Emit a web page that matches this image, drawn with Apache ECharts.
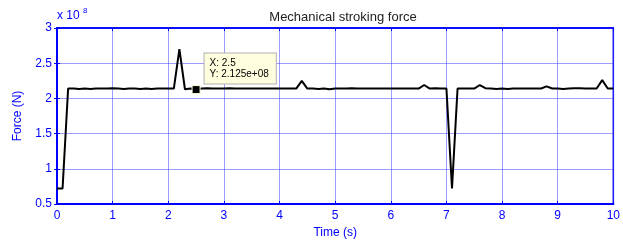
<!DOCTYPE html>
<html>
<head>
<meta charset="utf-8">
<script src="https://cdn.jsdelivr.net/npm/echarts@6/dist/echarts.min.js"></script>
<style>
  html, body { margin: 0; padding: 0; background: #fff; }
  #chart { width: 623px; height: 244px; }
</style>
</head>
<body>
<div id="chart"></div>
<script>
// time samples, 0.1 s apart
var times = [];
for (var i = 0; i <= 100; i++) times.push(+(i / 10).toFixed(1));

// force in units of 1e8 N
var force = [
  0.72, 0.72, 2.14, 2.14, 2.135, 2.14, 2.135, 2.14, 2.14, 2.14,
  2.145, 2.14, 2.135, 2.14, 2.14, 2.135, 2.14, 2.135, 2.14, 2.14,
  2.14, 2.14, 2.70, 2.13, 2.14, 2.125, 2.14, 2.145, 2.14, 2.14,
  2.14, 2.145, 2.14, 2.14, 2.14, 2.14, 2.14, 2.14, 2.14, 2.14,
  2.14, 2.14, 2.14, 2.14, 2.25, 2.14, 2.14, 2.135, 2.14, 2.13,
  2.14, 2.14, 2.14, 2.145, 2.14, 2.14, 2.14, 2.14, 2.14, 2.14,
  2.14, 2.14, 2.14, 2.14, 2.14, 2.14, 2.19, 2.14, 2.145, 2.14,
  2.14, 0.72, 2.14, 2.14, 2.14, 2.14, 2.19, 2.145, 2.14, 2.135,
  2.14, 2.135, 2.14, 2.14, 2.14, 2.14, 2.14, 2.14, 2.17, 2.14,
  2.14, 2.135, 2.14, 2.145, 2.145, 2.14, 2.14, 2.14, 2.26, 2.14, 2.14
];

var cursor = [2.5, 2.125];
var cursorText = "X: 2.5\nY: 2.125e+08";

var points = [];
for (var i = 0; i < times.length; i++) points.push([times[i], force[i]]);

var blue = "#0000ff";
var gridBlue = "rgba(60, 60, 255, 0.5)";
var font = "Liberation Sans";

var chart = echarts.init(document.getElementById("chart"), null, { renderer: "canvas" });

var option = {
  backgroundColor: "#fff",
  animation: false,
  title: {
    text: "Mechanical stroking force",
    left: 338,
    textAlign: "center",
    top: 6,
    textStyle: { fontFamily: font, fontSize: 13, fontWeight: "normal", color: "#222" }
  },
  graphic: [
    {
      type: "text", left: 57, top: 10,
      style: { text: "x 10", font: "12px Liberation Sans", fill: blue }
    },
    {
      type: "text", left: 83, top: 7,
      style: { text: "8", font: "8px Liberation Sans", fill: blue }
    }
  ],
  grid: {
    left: 57, right: 1, top: 28, bottom: 33,
    show: true, borderColor: blue, borderWidth: 1.5
  },
  xAxis: [
    {
      type: "value", min: 0, max: 10, interval: 1,
      name: "Time (s)", nameLocation: "middle", nameGap: 23,
      nameTextStyle: { color: blue, fontFamily: font, fontSize: 12 },
      axisLine: { show: true, lineStyle: { color: blue, width: 2 } },
      axisTick: { show: true, inside: true, length: 3, lineStyle: { color: blue } },
      axisLabel: { color: blue, fontFamily: font, fontSize: 12, margin: 6 },
      splitLine: { show: true, lineStyle: { color: gridBlue, width: 1 } }
    },
    {
      type: "value", min: 0, max: 10, interval: 1, position: "top",
      axisLine: { show: true, lineStyle: { color: blue, width: 1.5 } },
      axisTick: { show: true, inside: true, length: 3, lineStyle: { color: blue } },
      axisLabel: { show: false },
      splitLine: { show: false }
    }
  ],
  yAxis: [
    {
      type: "value", min: 0.5, max: 3, interval: 0.5,
      name: "Force (N)", nameLocation: "middle", nameGap: 33,
      nameTextStyle: { color: blue, fontFamily: font, fontSize: 12 },
      axisLine: { show: true, lineStyle: { color: blue, width: 2 } },
      axisTick: { show: true, inside: true, length: 3, lineStyle: { color: blue } },
      axisLabel: { color: blue, fontFamily: font, fontSize: 12, margin: 5 },
      splitLine: { show: true, lineStyle: { color: gridBlue, width: 1 } }
    },
    {
      type: "value", min: 0.5, max: 3, interval: 0.5, position: "right",
      axisLine: { show: true, lineStyle: { color: blue, width: 1.5 } },
      axisTick: { show: true, inside: true, length: 3, lineStyle: { color: blue } },
      axisLabel: { show: false },
      splitLine: { show: false }
    }
  ],
  series: [
    {
      type: "line",
      data: points,
      showSymbol: false,
      lineStyle: { color: "#000", width: 2 },
      markPoint: {
        symbol: "rect",
        symbolSize: 8,
        itemStyle: { color: "#000", borderColor: "#ffffe0", borderWidth: 1 },
        label: {
          show: true,
          position: "right",
          offset: [0, -21],
          distance: 4,
          formatter: cursorText,
          color: "#000",
          fontFamily: font,
          fontSize: 10,
          lineHeight: 11,
          align: "left",
          backgroundColor: "#ffffe0",
          borderColor: "#b0b0b0",
          borderWidth: 1,
          padding: [4, 7, 4, 5]
        },
        data: [{ coord: cursor }]
      }
    }
  ]
};

option && chart.setOption(option);
</script>
</body>
</html>
